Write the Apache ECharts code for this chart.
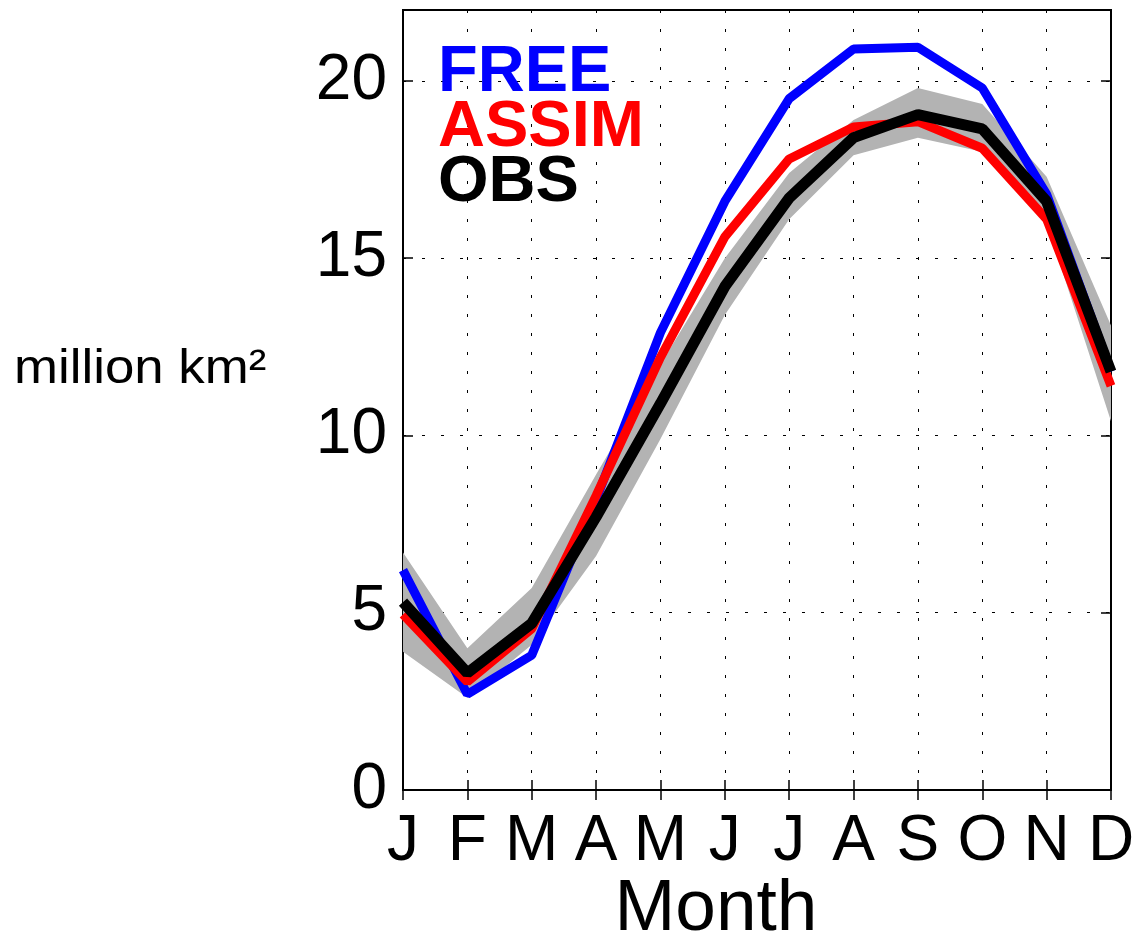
<!DOCTYPE html>
<html>
<head>
<meta charset="utf-8">
<script src="https://cdn.jsdelivr.net/npm/echarts@6/dist/echarts.min.js"></script>
<style>
  html, body { margin: 0; padding: 0; background: #fff; }
  #chart { width: 1133px; height: 938px; }
</style>
</head>
<body>
<div id="chart"></div>
<script>
const months = ['J', 'F', 'M', 'A', 'M', 'J', 'J', 'A', 'S', 'O', 'N', 'D'];
const yTicks = [0, 5, 10, 15, 20];
const free = [6.2, 2.7, 3.8, 8.2, 12.9, 16.6, 19.5, 20.9, 20.95, 19.8, 16.8, 11.8];
const assim = [4.95, 3.05, 4.55, 8.3, 12.2, 15.6, 17.8, 18.7, 18.85, 18.1, 16.1, 11.4];
const obs = [5.3, 3.3, 4.7, 7.7, 10.9, 14.2, 16.7, 18.4, 19.05, 18.65, 16.6, 11.8];
const obsLow = [3.9, 2.6, 4.1, 6.6, 9.9, 13.4, 16.1, 17.9, 18.4, 18.0, 16.0, 10.4];
const obsHigh = [6.7, 4.0, 5.7, 8.9, 12.0, 15.0, 17.4, 18.9, 19.8, 19.35, 17.3, 13.1];

const FONT = '"Liberation Sans", Arial, Helvetica, sans-serif';
const bandWidth = obsHigh.map((v, i) => +(v - obsLow[i]).toFixed(2));

const chart = echarts.init(document.getElementById('chart'));

const dotted = { color: '#000', width: 1, type: [3, 16] };

const option = {
  animation: false,
  grid: {
    left: 403,
    right: 22,
    top: 10,
    bottom: 148,
    outerBoundsMode: 'none',
    containLabel: false,
    show: true,
    borderColor: '#000',
    borderWidth: 2,
    backgroundColor: 'transparent'
  },
  legend: {
    orient: 'vertical',
    left: 428,
    top: 36,
    icon: 'none',
    itemWidth: 0,
    itemHeight: 0,
    itemGap: -10,
    selectedMode: false,
    textStyle: {
      fontFamily: FONT,
      fontWeight: 'bold',
      fontSize: 65
    },
    data: [
      { name: 'FREE', textStyle: { color: '#0000ff' } },
      { name: 'ASSIM', textStyle: { color: '#ff0000' } },
      { name: 'OBS', textStyle: { color: '#000000' } }
    ]
  },
  xAxis: [
    {
      type: 'category',
      data: months,
      boundaryGap: false,
      axisLine: { show: false },
      axisTick: { show: true, inside: true, length: 10, lineStyle: { color: '#000', width: 1.5 } },
      axisLabel: { fontFamily: FONT, fontSize: 64, color: '#000', margin: 20, interval: 0 },
      splitLine: { show: true, lineStyle: dotted }
    },
    {
      type: 'category',
      data: months,
      boundaryGap: false,
      position: 'top',
      axisLine: { show: false },
      axisTick: { show: true, inside: true, length: 10, lineStyle: { color: '#000', width: 1.5 } },
      axisLabel: { show: false },
      splitLine: { show: false }
    }
  ],
  yAxis: [
    {
      type: 'value',
      min: 0,
      max: 22,
      interval: 5,
      axisLine: { show: false },
      axisTick: { show: true, inside: true, length: 10, lineStyle: { color: '#000', width: 1.5 } },
      axisLabel: {
        fontFamily: FONT, fontSize: 64, color: '#000', margin: 16,
        formatter: v => (yTicks.indexOf(v) >= 0 ? String(v) : '')
      },
      splitLine: { show: true, lineStyle: dotted }
    },
    {
      type: 'value',
      min: 0,
      max: 22,
      interval: 5,
      position: 'right',
      axisLine: { show: false },
      axisTick: { show: true, inside: true, length: 10, lineStyle: { color: '#000', width: 1.5 } },
      axisLabel: { show: false },
      splitLine: { show: false }
    }
  ],
  series: [
    {
      name: 'obsLow',
      type: 'line',
      stack: 'band',
      data: obsLow,
      symbol: 'none',
      lineStyle: { opacity: 0 },
      silent: true,
      z: 1
    },
    {
      name: 'obsRange',
      type: 'line',
      stack: 'band',
      data: bandWidth,
      symbol: 'none',
      lineStyle: { opacity: 0 },
      areaStyle: { color: '#b3b3b3', opacity: 1 },
      silent: true,
      z: 1
    },
    {
      name: 'FREE',
      type: 'line',
      data: free,
      symbol: 'none',
      color: '#0000ff',
      lineStyle: { color: '#0000ff', width: 9 },
      z: 3
    },
    {
      name: 'ASSIM',
      type: 'line',
      data: assim,
      symbol: 'none',
      color: '#ff0000',
      lineStyle: { color: '#ff0000', width: 9 },
      z: 4
    },
    {
      name: 'OBS',
      type: 'line',
      data: obs,
      symbol: 'none',
      color: '#000000',
      lineStyle: { color: '#000000', width: 11 },
      z: 5
    }
  ],
  graphic: [
    {
      type: 'text',
      x: 14,
      y: 370,
      scaleX: 1.1,
      style: {
        text: 'million km²',
        fill: '#000',
        font: '48px ' + FONT,
        verticalAlign: 'middle'
      }
    },
    {
      type: 'text',
      x: 716,
      y: 910,
      style: {
        text: 'Month',
        fill: '#000',
        font: '73px ' + FONT,
        align: 'center',
        verticalAlign: 'middle'
      }
    }
  ]
};

chart.setOption(option);
window.addEventListener('resize', () => chart.resize());
</script>
</body>
</html>
